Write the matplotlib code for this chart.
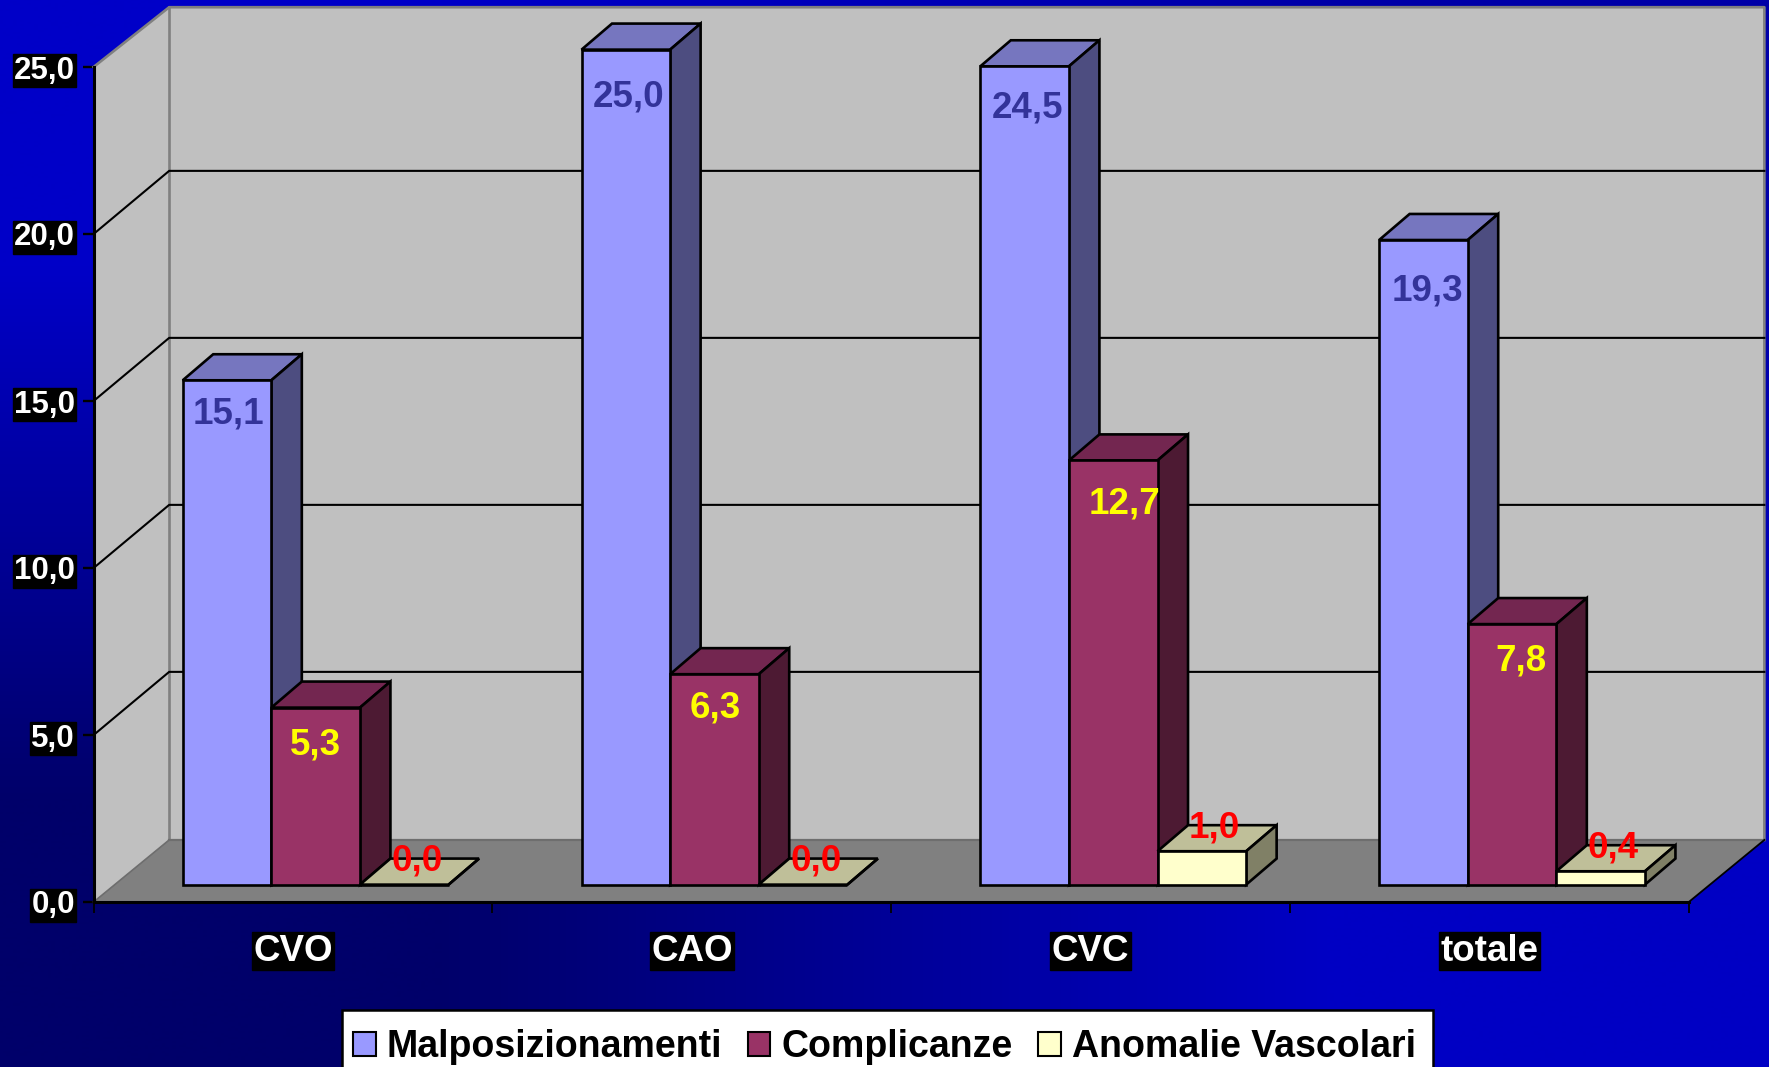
"""
3D-look clustered bars on a blue gradient background
"""
import matplotlib
matplotlib.use('Agg')
import matplotlib.pyplot as plt
from matplotlib.patches import Patch, Polygon, Rectangle
from matplotlib.colors import to_rgb
import numpy as np

plt.rcParams['font.family'] = ['Liberation Sans', 'DejaVu Sans']
plt.rcParams['font.weight'] = 'bold'

categories = ['CVO', 'CAO', 'CVC', 'totale']
series_names = ['Malposizionamenti', 'Complicanze', 'Anomalie Vascolari']
malposizionamenti = [15.1, 25.0, 24.5, 19.3]
complicanze = [5.3, 6.3, 12.7, 7.8]
anomalie = [0.0, 0.0, 1.0, 0.4]
y_ticks = [0, 5, 10, 15, 20, 25]

# front, top, side, label colour
bar_styles = [
    ('#9999FF', '#7676BF', '#4D4D80', '#333399'),
    ('#993366', '#732650', '#4D1A33', '#FFFF00'),
    ('#FFFFCC', '#BFBF99', '#808066', '#FF0000'),
]

W, H = 1769, 1067
X0, CAT_W = 93.6, 398.8      # pixels
Y0, UNIT_H = 902.0, 33.4

WALL_DX, WALL_DY = 0.1895, 1.858   # depth of the box
GRID_DY = 1.89
TOP_DY = 1.79
BAR_DX, BAR_DY = 0.0764, 0.78      # depth of a bar
BAR_SHIFT_Y = 0.52
BAR_START = 0.2235
BAR_W = 0.2222


def value_label(v):
    return f'{v:.1f}'.replace('.', ',')


def draw_bar(ax, x, v, style):
    front, top, side, _ = style
    y0 = BAR_SHIFT_Y
    y1 = BAR_SHIFT_Y + v
    x1 = x + BAR_W
    kw = dict(edgecolor='black', linewidth=1.9, joinstyle='miter', zorder=5)
    ax.add_patch(Polygon([(x, y1), (x + BAR_DX, y1 + BAR_DY), (x1 + BAR_DX, y1 + BAR_DY), (x1, y1)],
                         facecolor=top, **kw))
    ax.add_patch(Polygon([(x1, y0), (x1 + BAR_DX, y0 + BAR_DY), (x1 + BAR_DX, y1 + BAR_DY), (x1, y1)],
                         facecolor=side, **kw))
    ax.add_patch(Polygon([(x, y0), (x1, y0), (x1, y1), (x, y1)], facecolor=front, **kw))


fig = plt.figure(figsize=(W / 100, H / 100), dpi=100)
ax = fig.add_axes([0, 0, 1, 1])

xlim = (-X0 / CAT_W, (W - X0) / CAT_W)
ylim = (-(H - Y0) / UNIT_H, Y0 / UNIT_H)

# background gradient, four corners
corners = np.array([[to_rgb('#0000C8'), to_rgb('#0000A8')],
                    [to_rgb('#00006A'), to_rgb('#0000C4')]])
ax.imshow(corners, extent=(*xlim, *ylim), origin='upper', aspect='auto',
          interpolation='bilinear', zorder=0)
ax.set_xlim(*xlim)
ax.set_ylim(*ylim)

n_cat = len(categories)
top_v = y_ticks[-1]
top_back = top_v + TOP_DY

# walls and floor
ax.add_patch(Polygon([(0, 0), (WALL_DX, WALL_DY), (WALL_DX, top_back), (0, top_v)],
                     facecolor='#C0C0C0', edgecolor='none', zorder=1))
ax.add_patch(Polygon([(WALL_DX, WALL_DY), (n_cat + WALL_DX, WALL_DY), (n_cat + WALL_DX, top_back),
                      (WALL_DX, top_back)], facecolor='#C0C0C0', edgecolor='none', zorder=1))
ax.add_patch(Polygon([(0, 0), (n_cat, 0), (n_cat + WALL_DX, WALL_DY), (WALL_DX, WALL_DY)],
                     facecolor='#808080', edgecolor='none', zorder=1))
grey = '#808080'
ax.plot([0, WALL_DX, n_cat + WALL_DX, n_cat + WALL_DX], [top_v, top_back, top_back, WALL_DY],
        color=grey, lw=1.9, zorder=2)
ax.plot([WALL_DX, WALL_DX], [WALL_DY, top_back], color=grey, lw=1.9, zorder=2)
ax.plot([WALL_DX, n_cat + WALL_DX], [WALL_DY, WALL_DY], color='#6E6E6E', lw=1.6, zorder=2)
ax.plot([0, WALL_DX], [0, WALL_DY], color='#6E6E6E', lw=1.2, zorder=2)
ax.plot([n_cat, n_cat + WALL_DX], [0, WALL_DY], color='black', lw=1.3, zorder=2)

# grid lines
for t in y_ticks[1:-1]:
    ax.plot([0, WALL_DX, n_cat + WALL_DX], [t, t + GRID_DY, t + GRID_DY],
            color='black', lw=1.5, zorder=2)

# bars
series = [malposizionamenti, complicanze, anomalie]
for s, values in enumerate(series):
    for c, v in enumerate(values):
        draw_bar(ax, c + BAR_START + s * BAR_W, v, bar_styles[s])

# value labels, series by series
label_drop = [[1.02, 1.43, 1.26, 1.53], [1.12, 1.02, 1.29, 1.09], [-0.70, -0.70, -0.70, -0.70]]
label_shift = [[0.003, 0.008, 0.008, 0.011], [0.0, 0.003, 0.028, 0.023], [0.032, 0.032, 0.032, 0.032]]
for s, values in enumerate(series):
    for c, v in enumerate(values):
        lx = c + BAR_START + (s + 0.5) * BAR_W + label_shift[s][c]
        ax.text(lx, BAR_SHIFT_Y + v - label_drop[s][c], value_label(v), ha='center', va='center',
                fontsize=26.5, fontweight='bold', color=bar_styles[s][3], zorder=8)

# axes
for name in ['top', 'right']:
    ax.spines[name].set_visible(False)
for name in ['left', 'bottom']:
    ax.spines[name].set_linewidth(2.2)
    ax.spines[name].set_zorder(6)
ax.spines['left'].set_position(('data', 0))
ax.spines['left'].set_bounds(0, top_v)
ax.spines['bottom'].set_position(('data', 0))
ax.spines['bottom'].set_bounds(0, n_cat)

ax.set_yticks(y_ticks)
ax.set_yticklabels([value_label(t) for t in y_ticks], fontsize=22.5, fontweight='bold', color='white')
ax.tick_params(axis='y', length=8, width=1.7, pad=5.5, color='black')
ax.set_xticks(range(n_cat + 1))
ax.set_xticklabels([])
ax.tick_params(axis='x', which='major', length=8, width=1.3, color='black')
ax.set_xticks(np.arange(n_cat) + 0.5, minor=True)
ax.set_xticklabels(categories, minor=True, fontsize=26.5, fontweight='bold', color='white')
ax.tick_params(axis='x', which='minor', length=0, pad=23)
label_box = dict(facecolor='black', edgecolor='black', pad=1)
for lab in ax.get_yticklabels() + ax.get_xticklabels(minor=True):
    lab.set_bbox(label_box)

# legend box runs off the bottom of the picture
fig.add_artist(Rectangle((342 / W, -0.01), (1433 - 342) / W, 0.01 + 1 - 1010 / H, transform=fig.transFigure,
                         facecolor='white', edgecolor='black', linewidth=1.8, zorder=8))
handles = [Patch(facecolor=st[0], edgecolor='black', linewidth=1.5) for st in bar_styles]
leg = fig.legend(handles, series_names, ncol=3, loc='upper left',
                 bbox_to_anchor=(353 / W, 1 - 1029 / H), bbox_transform=fig.transFigure,
                 borderaxespad=0, frameon=False,
                 prop=dict(family='Liberation Sans', weight='bold', size=27),
                 handlelength=0.6, handleheight=0.6, handletextpad=0.3, columnspacing=0.68,
                 borderpad=0)
leg.set_zorder(9)

fig.savefig('out.png', dpi=100)
